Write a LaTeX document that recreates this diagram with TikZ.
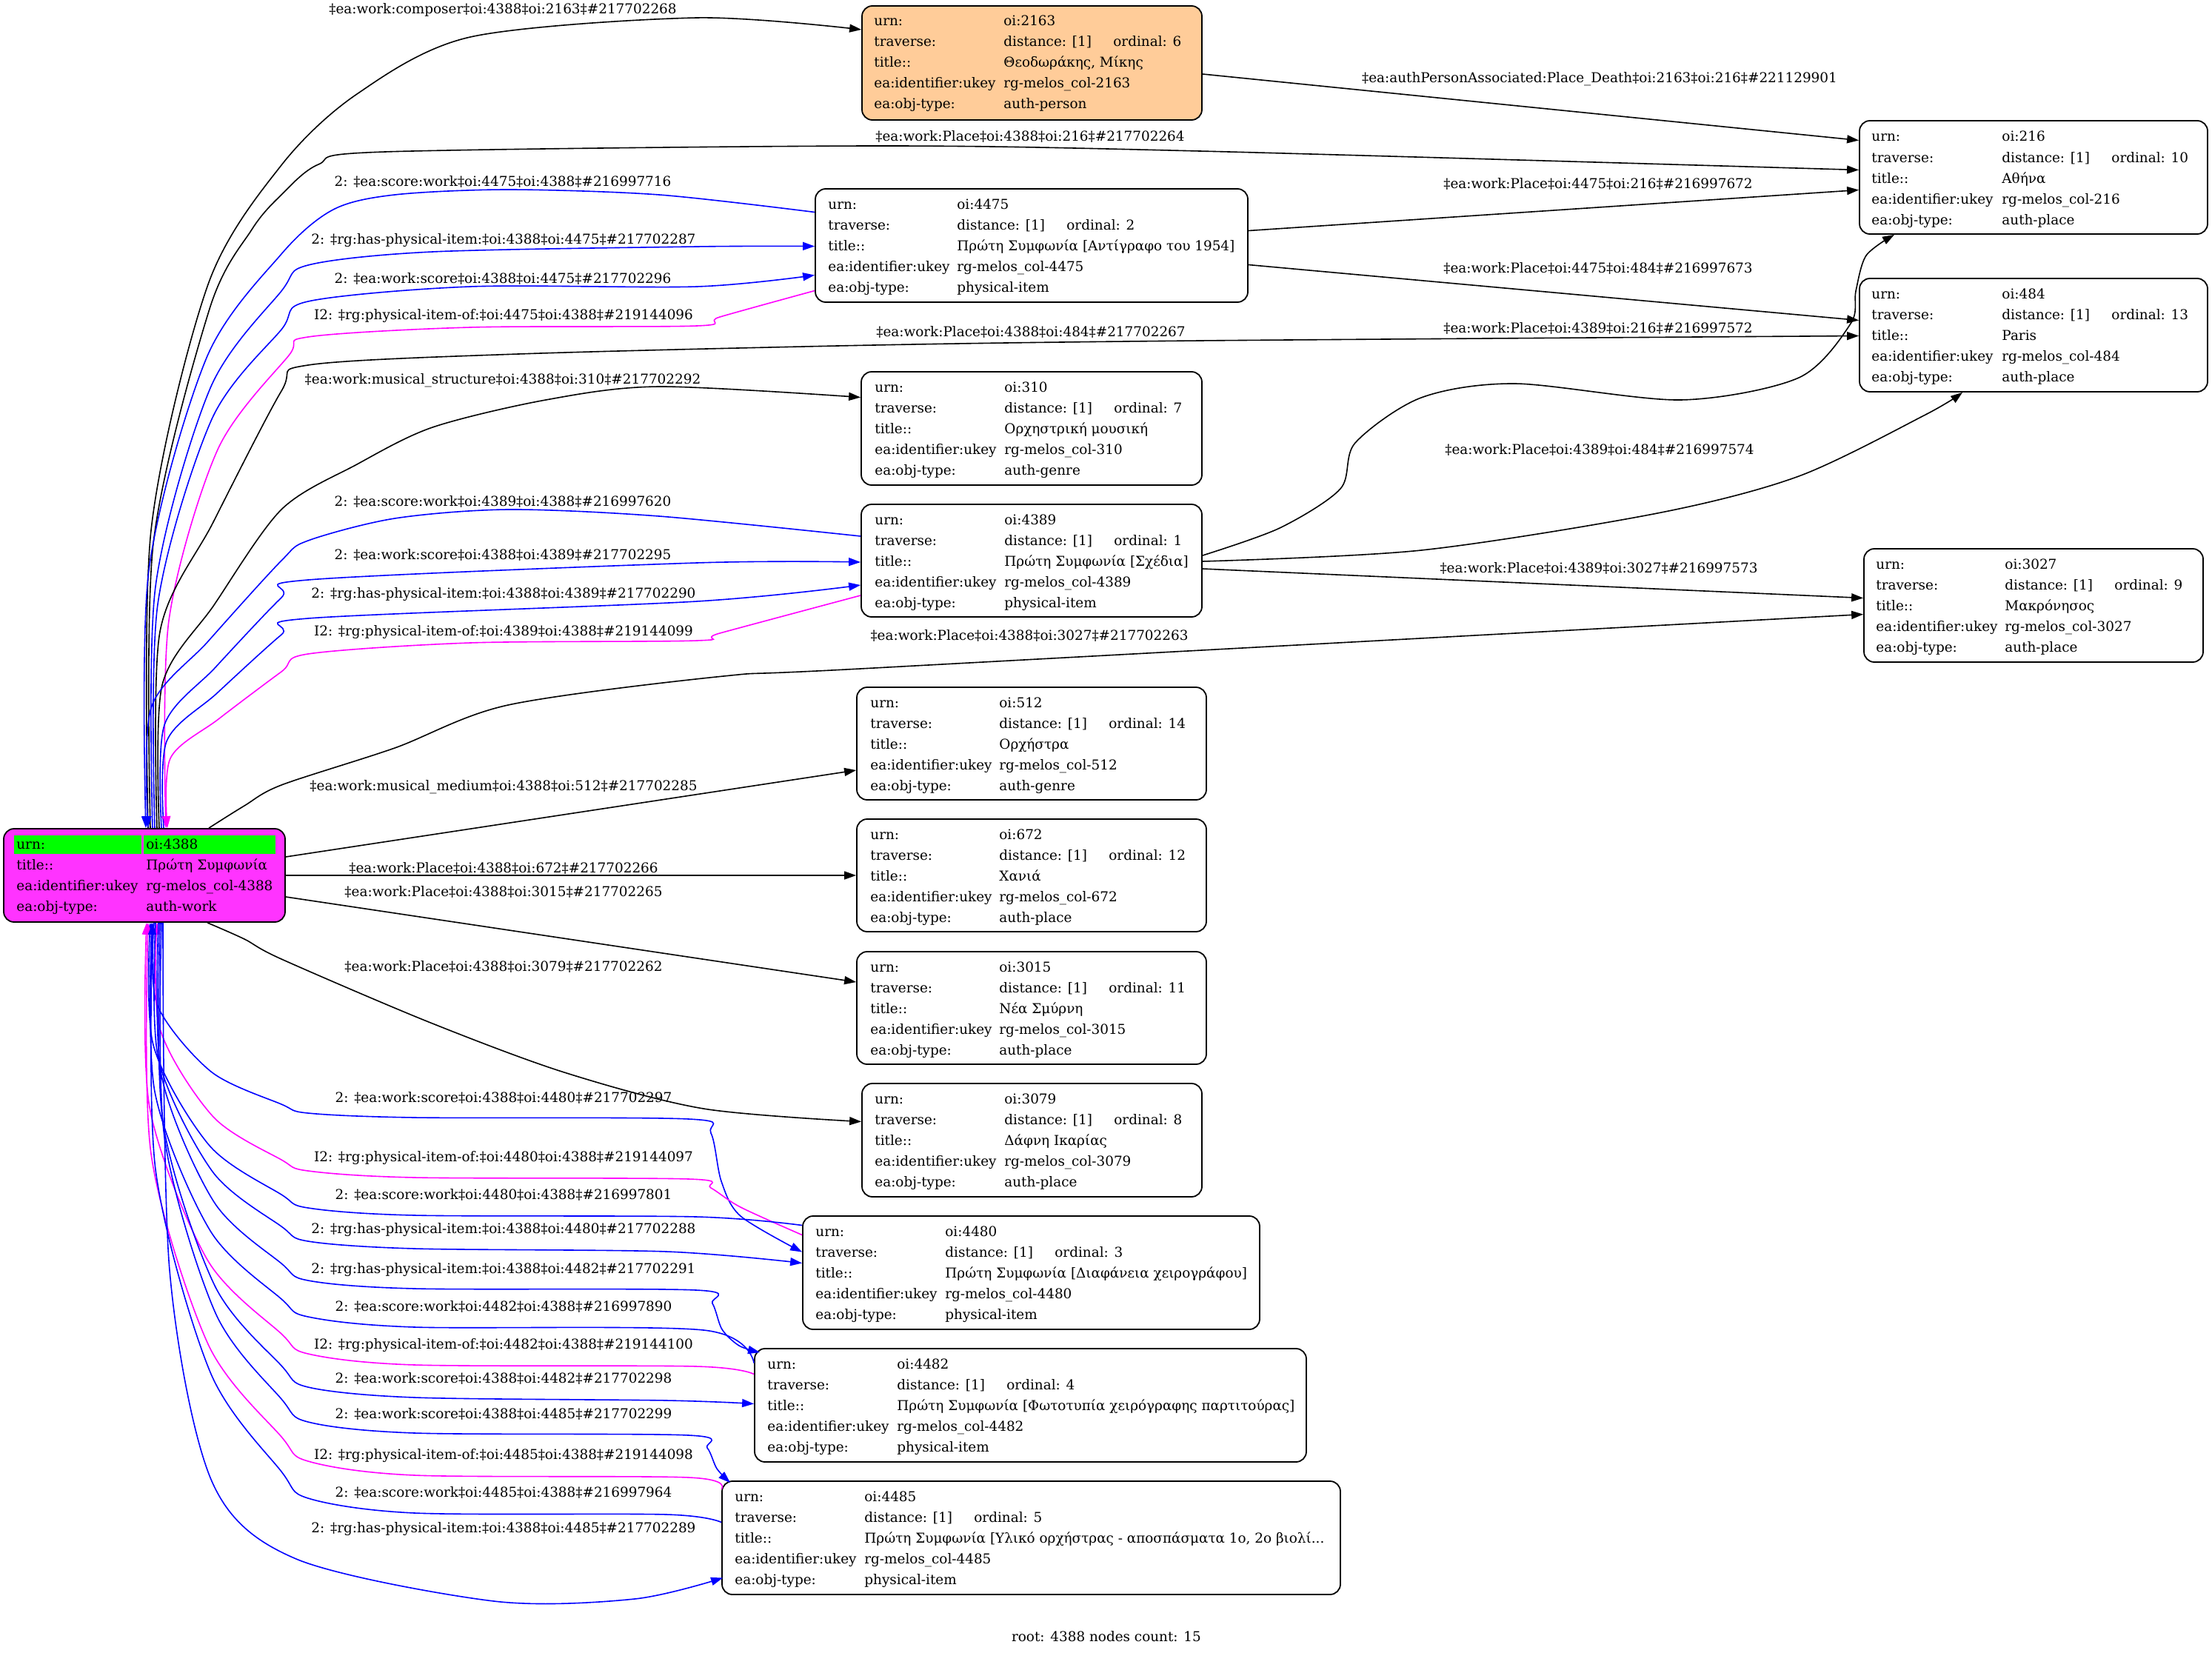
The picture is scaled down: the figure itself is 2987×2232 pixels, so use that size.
\documentclass[tikz,border=0pt]{standalone}
\usepackage{fontspec}
\setmainfont{DejaVu Serif}
\usetikzlibrary{arrows.meta}
\newcommand\fs{\fontsize{9.2pt}{11pt}\selectfont}
\definecolor{rootpink}{RGB}{255,51,255}
\definecolor{peach}{RGB}{255,204,153}
\definecolor{hl}{RGB}{0,255,0}
\definecolor{mg}{RGB}{255,0,255}
\definecolor{bl}{RGB}{0,0,255}
\tikzset{
  box/.style={draw=black, line width=0.9pt, rounded corners=7pt, inner sep=0pt, fill=white},
  txt/.style={anchor=base west, inner sep=0pt, font=\fs},
  lbl/.style={anchor=base, inner sep=0pt, font=\fs},
  tip/.style={-{Triangle[length=8pt,width=5.5pt]}},
  blk/.style={draw=black, line width=0.8pt, tip},
  blu/.style={draw=bl, line width=0.8pt, tip, bl},
  mag/.style={draw=mg, line width=0.8pt, tip, mg},
}
\newcommand\mkbox[6]{%
  \pgfmathsetmacro\bw{(#4-#2)*0.5}%
  \pgfmathsetmacro\bh{(#5-#3)*0.5}%
  \node[box,#6,minimum width=\bw pt,minimum height=\bh pt] (#1) at ({(#2+#4)/2},{(#3+#5)/2}) {};%
}
\newcommand\mkrows[9]{%
  \node[txt] (#1-k1) at (#2,#4+6) {urn:};
  \node[txt] (#1-v1) at (#3,#4+6) {#5};
  \node[txt] (#1-k2) at (#2,#4+34) {traverse:};
  \node[txt] (#1-v2) at (#3,#4+34) {distance: [1]};
  \node[txt] (#1-o2) at (#3+148,#4+34) {ordinal: #6};
  \node[txt] (#1-k3) at (#2,#4+62) {title::};
  \node[txt] (#1-v3) at (#3,#4+62) {#7};
  \node[txt] (#1-k4) at (#2,#4+90) {ea:identifier:ukey};
  \node[txt] (#1-v4) at (#3,#4+90) {#8};
  \node[txt] (#1-k5) at (#2,#4+118) {ea:obj-type:};
  \node[txt] (#1-v5) at (#3,#4+118) {#9};
}
\begin{document}
\begin{tikzpicture}[x=0.5pt,y=-0.5pt]
\useasboundingbox[fill=white] (0,0) rectangle (2987,2232);

% ---------- nodes ----------
\mkbox{root}{5}{1119}{385}{1245}{fill=rootpink}
\fill[hl] (19,1128) rectangle (191,1153);
\fill[hl] (194,1128) rectangle (372,1153);
\node[txt] (root-k1) at (22,1146) {urn:};
\node[txt] (root-v1) at (197,1146) {oi:4388};
\node[txt] (root-k2) at (22,1174) {title::};
\node[txt] (root-v2) at (197,1174) {Πρώτη Συμφωνία};
\node[txt] (root-k3) at (22,1202) {ea:identifier:ukey};
\node[txt] (root-v3) at (197,1202) {rg-melos\_col-4388};
\node[txt] (root-k4) at (22,1230) {ea:obj-type:};
\node[txt] (root-v4) at (197,1230) {auth-work};

\mkbox{n2163}{1164}{8}{1623}{162}{fill=peach}
\mkrows{n2163}{1180}{1355}{29}{oi:2163}{6}{Θεοδωράκης, Μίκης}{rg-melos\_col-2163}{auth-person}

\mkbox{n216}{2511}{163}{2981}{316}{}
\mkrows{n216}{2527}{2703}{185}{oi:216}{10}{Αθήνα}{rg-melos\_col-216}{auth-place}

\mkbox{n4475}{1101}{255}{1685}{408}{}
\mkrows{n4475}{1118}{1292}{276}{oi:4475}{2}{Πρώτη Συμφωνία [Αντίγραφο του 1954]}{rg-melos\_col-4475}{physical-item}

\mkbox{n484}{2511}{376}{2981}{529}{}
\mkrows{n484}{2527}{2703}{397}{oi:484}{13}{Paris}{rg-melos\_col-484}{auth-place}

\mkbox{n310}{1163}{502}{1623}{655}{}
\mkrows{n310}{1181}{1356}{523}{oi:310}{7}{Ορχηστρική μουσική}{rg-melos\_col-310}{auth-genre}

\mkbox{n4389}{1163}{681}{1623}{833}{}
\mkrows{n4389}{1181}{1356}{702}{oi:4389}{1}{Πρώτη Συμφωνία [Σχέδια]}{rg-melos\_col-4389}{physical-item}

\mkbox{n3027}{2517}{741}{2975}{894}{}
\mkrows{n3027}{2533}{2707}{762}{oi:3027}{9}{Μακρόνησος}{rg-melos\_col-3027}{auth-place}

\mkbox{n512}{1157}{928}{1629}{1080}{}
\mkrows{n512}{1175}{1349}{949}{oi:512}{14}{Ορχήστρα}{rg-melos\_col-512}{auth-genre}

\mkbox{n672}{1157}{1106}{1629}{1258}{}
\mkrows{n672}{1175}{1349}{1127}{oi:672}{12}{Χανιά}{rg-melos\_col-672}{auth-place}

\mkbox{n3015}{1157}{1285}{1629}{1437}{}
\mkrows{n3015}{1175}{1349}{1306}{oi:3015}{11}{Νέα Σμύρνη}{rg-melos\_col-3015}{auth-place}

\mkbox{n3079}{1164}{1463}{1623}{1616}{}
\mkrows{n3079}{1181}{1356}{1484}{oi:3079}{8}{Δάφνη Ικαρίας}{rg-melos\_col-3079}{auth-place}

\mkbox{n4480}{1084}{1642}{1701}{1795}{}
\mkrows{n4480}{1101}{1276}{1663}{oi:4480}{3}{Πρώτη Συμφωνία [Διαφάνεια χειρογράφου]}{rg-melos\_col-4480}{physical-item}

\mkbox{n4482}{1019}{1821}{1764}{1974}{}
\mkrows{n4482}{1036}{1211}{1842}{oi:4482}{4}{Πρώτη Συμφωνία [Φωτοτυπία χειρόγραφης παρτιτούρας]}{rg-melos\_col-4482}{physical-item}

\mkbox{n4485}{975}{2000}{1810}{2153}{}
\mkrows{n4485}{992}{1167}{2021}{oi:4485}{5}{Πρώτη Συμφωνία [Υλικό ορχήστρας - αποσπάσματα 1ο, 2ο βιολί...}{rg-melos\_col-4485}{physical-item}

% ---------- edges (upper) ----------
\draw[blk] plot[smooth,tension=0.5] coordinates {([shift={(5,0)}]root.north) (204,716) (281,384) (380,223) (482,127) (635,50) (941,24) ([shift={(0,-45)}]n2163.west)};
\draw[blk] plot[smooth,tension=0.5] coordinates {([shift={(8,0)}]root.north) (207,734) (283,417) (340,310) (380,263) (430,222) (520,205) (1180,197) (1620,204) ([shift={(0,-10)}]n216.west)};
\draw[blk] ([shift={(0,15)}]n2163.east) -- ([shift={(0,-50)}]n216.west);
\draw[blk] ([shift={(0,-20)}]n4475.east) -- ([shift={(0,17)}]n216.west);
\draw[blk] ([shift={(0,26)}]n4475.east) -- ([shift={(0,-20)}]n484.west);
\draw[blu] plot[smooth,tension=0.5] coordinates {([shift={(0,-45)}]n4475.west) (890,263) (686,256) (533,263) (450,283) (380,343) (279,483) (201,770) ([shift={(2,0)}]root.north)};
\draw[blu] plot[smooth,tension=0.5] coordinates {([shift={(11,0)}]root.north) (210,792) (284,524) (380,393) (416,358) (584,340) (941,333) ([shift={(0,1)}]n4475.west)};
\draw[blu] plot[smooth,tension=0.5] coordinates {([shift={(14,0)}]root.north) (213,816) (286,566) (380,445) (416,407) (635,387) (941,387) ([shift={(0,40)}]n4475.west)};
\draw[mag] plot[smooth,tension=0.5] coordinates {([shift={(0,61)}]n4475.west) (972,428) (941,440) (635,442) (416,455) (390,480) (294,607) (228,838) ([shift={(29,0)}]root.north)};
\draw[blk] plot[smooth,tension=0.5] coordinates {([shift={(17,0)}]root.north) (216,853) (288,705) (380,528) (416,493) (700,478) (1180,466) (1620,460) ([shift={(0,1)}]n484.west)};
\draw[blk] plot[smooth,tension=0.5] coordinates {([shift={(20,0)}]root.north) (219,925) (289,817) (380,688) (482,627) (584,577) (737,540) (890,522) ([shift={(0,-42)}]n310.west)};
\draw[blu] plot[smooth,tension=0.5] coordinates {([shift={(0,-33)}]n4389.west) (890,697) (686,688) (533,700) (416,730) (380,757) (281,866) (204,956) ([shift={(5,0)}]root.north)};
\draw[blu] plot[smooth,tension=0.5] coordinates {([shift={(23,0)}]root.north) (222,979) (291,901) (380,807) (416,783) (941,760) ([shift={(0,2)}]n4389.west)};
\draw[blu] plot[smooth,tension=0.5] coordinates {([shift={(26,0)}]root.north) (225,1001) (293,936) (380,857) (416,835) (941,812) ([shift={(0,33)}]n4389.west)};
\draw[mag] plot[smooth,tension=0.5] coordinates {([shift={(0,47)}]n4389.west) (972,855) (941,865) (635,868) (416,883) (380,907) (295,971) (230,1024) ([shift={(31,0)}]root.north)};
\draw[blk] plot[smooth,tension=0.5] coordinates {([shift={(0,-7)}]n4389.east) (1728,713) (1810,660) (1830,598) (1919,537) (2046,518) (2270,540) (2429,510) (2499,437) (2506,393) (2520,345) ([shift={(-188,0)}]n216.south)};
\draw[blk] plot[smooth,tension=0.5] coordinates {([shift={(0,1)}]n4389.east) (1919,743) (2238,693) (2429,643) (2600,560) ([shift={(-96,0)}]n484.south)};
\draw[blk] ([shift={(0,11)}]n4389.east) -- ([shift={(0,-10)}]n3027.west);
\draw[blk] plot[smooth,tension=0.5] coordinates {([shift={(87,0)}]root.north) (330,1088) (380,1060) (533,1010) (686,952) (977,913) (1180,902) ([shift={(0,12)}]n3027.west)};
\draw[blk] ([shift={(0,-25)}]root.east) -- ([shift={(0,36)}]n512.west);
\draw[blk] (root.east) -- (n672.west);
\draw[blk] ([shift={(0,29)}]root.east) -- ([shift={(0,-35)}]n3015.west);
\draw[blk] plot[smooth,tension=0.5] coordinates {([shift={(85,0)}]root.south) (330,1268) (380,1295) (579,1380) (762,1448) (950,1497) ([shift={(0,-25)}]n3079.west)};

% ---------- edges (lower) ----------
\draw[blu] plot[smooth,tension=0.5] coordinates {([shift={(13,0)}]root.south) (212,1356) (285,1447) (380,1491) (416,1503) (560,1509) (930,1511) (960,1530) (974,1595) (1000,1642) ([shift={(0,-28)}]n4480.west)};
\draw[mag] plot[smooth,tension=0.5] coordinates {([shift={(0,-51)}]n4480.west) (1000,1630) (960,1604) (930,1592) (560,1590) (416,1581) (380,1566) (288,1508) (216,1389) ([shift={(17,0)}]root.south)};
\draw[blu] plot[smooth,tension=0.5] coordinates {([shift={(0,-64)}]n4480.west) (940,1643) (560,1641) (416,1631) (380,1613) (283,1547) (207,1411) ([shift={(8,0)}]root.south)};
\draw[blu] plot[smooth,tension=0.5] coordinates {([shift={(15,0)}]root.south) (214,1430) (287,1582) (380,1656) (416,1676) (560,1686) (900,1690) ([shift={(0,-13)}]n4480.west)};
\draw[blu] plot[smooth,tension=0.5] coordinates {([shift={(19,0)}]root.south) (218,1452) (289,1623) (380,1706) (416,1729) (560,1740) (940,1742) (962,1760) (975,1795) (998,1817) ([shift={(8,6)}]n4482.north west)};
\draw[blu] plot[smooth,tension=0.5] coordinates {([shift={(0,-57)}]n4482.west) (950,1796) (560,1792) (416,1778) (380,1754) (284,1662) (209,1474) ([shift={(10,0)}]root.south)};
\draw[mag] plot[smooth,tension=0.5] coordinates {([shift={(0,-42)}]n4482.west) (940,1845) (560,1843) (416,1828) (380,1801) (280,1701) (202,1495) ([shift={(3,0)}]root.south)};
\draw[blu] plot[smooth,tension=0.5] coordinates {([shift={(21,0)}]root.south) (220,1515) (290,1736) (380,1844) (416,1873) (560,1887) (900,1891) ([shift={(0,-2)}]n4482.west)};
\draw[blu] plot[smooth,tension=0.5] coordinates {([shift={(23,0)}]root.south) (222,1535) (291,1773) (380,1889) (416,1920) (560,1935) (930,1938) (955,1955) (968,1983) ([shift={(12,3)}]n4485.north west)};
\draw[mag] plot[smooth,tension=0.5] coordinates {([shift={(0,-66)}]n4485.west) (930,1995) (560,1992) (416,1973) (380,1940) (281,1815) (204,1558) ([shift={(5,0)}]root.south)};
\draw[blu] plot[smooth,tension=0.5] coordinates {([shift={(0,-21)}]n4485.west) (900,2045) (560,2043) (416,2023) (380,1987) (284,1853) (210,1579) ([shift={(11,0)}]root.south)};
\draw[blu] plot[smooth,tension=0.5] coordinates {([shift={(25,0)}]root.south) (229,1715) (286,2000) (400,2105) (667,2162) (857,2159) ([shift={(2,54)}]n4485.west)};

% ---------- labels ----------
\node[lbl] (l1) at (679,19) {‡ea:work:composer‡oi:4388‡oi:2163‡\#217702268};
\node[lbl] (l2) at (1391,191) {‡ea:work:Place‡oi:4388‡oi:216‡\#217702264};
\node[lbl] (l3) at (2160,112) {‡ea:authPersonAssociated:Place\_Death‡oi:2163‡oi:216‡\#221129901};
\node[lbl] (l4) at (2158,254) {‡ea:work:Place‡oi:4475‡oi:216‡\#216997672};
\node[lbl] (l5) at (2158,368) {‡ea:work:Place‡oi:4475‡oi:484‡\#216997673};
\node[lbl] (l6) at (2158,449) {‡ea:work:Place‡oi:4389‡oi:216‡\#216997572};
\node[lbl] (l7) at (1392,454) {‡ea:work:Place‡oi:4388‡oi:484‡\#217702267};
\node[lbl] (l8) at (679,518) {‡ea:work:musical\_structure‡oi:4388‡oi:310‡\#217702292};
\node[lbl] (l9) at (2160,613) {‡ea:work:Place‡oi:4389‡oi:484‡\#216997574};
\node[lbl] (l10) at (2159,773) {‡ea:work:Place‡oi:4389‡oi:3027‡\#216997573};
\node[lbl] (l11) at (1390,864) {‡ea:work:Place‡oi:4388‡oi:3027‡\#217702263};
\node[lbl] (l12) at (680,1067) {‡ea:work:musical\_medium‡oi:4388‡oi:512‡\#217702285};
\node[lbl] (l13) at (680,1178) {‡ea:work:Place‡oi:4388‡oi:672‡\#217702266};
\node[lbl] (l14) at (680,1210) {‡ea:work:Place‡oi:4388‡oi:3015‡\#217702265};
\node[lbl] (l15) at (680,1311) {‡ea:work:Place‡oi:4388‡oi:3079‡\#217702262};
\node[lbl] (l16) at (679,251) {2: ‡ea:score:work‡oi:4475‡oi:4388‡\#216997716};
\node[lbl] (l17) at (680,329) {2: ‡rg:has-physical-item:‡oi:4388‡oi:4475‡\#217702287};
\node[lbl] (l18) at (679,382) {2: ‡ea:work:score‡oi:4388‡oi:4475‡\#217702296};
\node[lbl] (l19) at (680,431) {I2: ‡rg:physical-item-of:‡oi:4475‡oi:4388‡\#219144096};
\node[lbl] (l20) at (679,683) {2: ‡ea:score:work‡oi:4389‡oi:4388‡\#216997620};
\node[lbl] (l21) at (679,755) {2: ‡ea:work:score‡oi:4388‡oi:4389‡\#217702295};
\node[lbl] (l22) at (680,807) {2: ‡rg:has-physical-item:‡oi:4388‡oi:4389‡\#217702290};
\node[lbl] (l23) at (680,858) {I2: ‡rg:physical-item-of:‡oi:4389‡oi:4388‡\#219144099};
\node[lbl] (l24) at (680,1488) {2: ‡ea:work:score‡oi:4388‡oi:4480‡\#217702297};
\node[lbl] (l25) at (680,1568) {I2: ‡rg:physical-item-of:‡oi:4480‡oi:4388‡\#219144097};
\node[lbl] (l26) at (680,1619) {2: ‡ea:score:work‡oi:4480‡oi:4388‡\#216997801};
\node[lbl] (l27) at (680,1665) {2: ‡rg:has-physical-item:‡oi:4388‡oi:4480‡\#217702288};
\node[lbl] (l28) at (680,1719) {2: ‡rg:has-physical-item:‡oi:4388‡oi:4482‡\#217702291};
\node[lbl] (l29) at (680,1770) {2: ‡ea:score:work‡oi:4482‡oi:4388‡\#216997890};
\node[lbl] (l30) at (680,1821) {I2: ‡rg:physical-item-of:‡oi:4482‡oi:4388‡\#219144100};
\node[lbl] (l31) at (680,1867) {2: ‡ea:work:score‡oi:4388‡oi:4482‡\#217702298};
\node[lbl] (l32) at (680,1915) {2: ‡ea:work:score‡oi:4388‡oi:4485‡\#217702299};
\node[lbl] (l33) at (680,1970) {I2: ‡rg:physical-item-of:‡oi:4485‡oi:4388‡\#219144098};
\node[lbl] (l34) at (680,2021) {2: ‡ea:score:work‡oi:4485‡oi:4388‡\#216997964};
\node[lbl] (l35) at (680,2069) {2: ‡rg:has-physical-item:‡oi:4388‡oi:4485‡\#217702289};

\node[lbl] (footer) at (1494,2216) {root: 4388 nodes count: 15};
\end{tikzpicture}
\end{document}
